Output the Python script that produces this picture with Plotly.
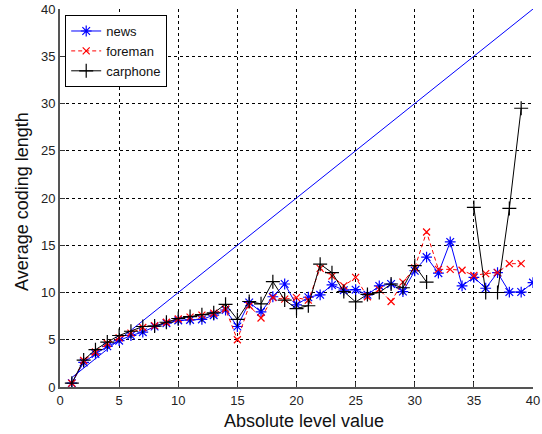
import plotly.graph_objects as go

levels = list(range(1, 41))

news = [0.4, 2.6, 3.5, 4.3, 4.9, 5.45, 5.8, 6.4, 6.75, 7.05,
        7.1, 7.15, 7.6, 8.15, 6.4, 8.95, 7.95, 9.55, 10.9, 8.7,
        9.5, 9.75, 10.8, 10.25, 10.3, 9.75, 10.7, 10.9, 10.1, 12.3,
        13.75, 12.05, 15.35, 10.7, 11.6, 10.45, 12.1, 10.05, 10.05, 11.05]

foreman = [0.4, 2.8, 3.7, 4.6, 5.2, 5.7, 6.3, 6.5, 6.85, 7.2,
           7.4, 7.6, 7.8, 8.25, 5.0, 8.6, 7.3, 9.45, 9.3, 9.45,
           9.2, 12.55, 11.75, 10.7, 11.6, 9.55, 10.3, 9.05, 11.1, 12.6,
           16.4, 12.45, 12.45, 12.35, 11.8, 12.0, 12.1, 13.05, 13.05, None]

carphone = [0.4, 2.85, 3.95, 4.75, 5.45, 5.9, 6.4, 6.45, 6.85, 7.25,
            7.45, 7.65, 7.85, 8.75, 7.15, 9.05, 8.8, 11.15, 9.2, 8.3,
            8.6, 13.0, 12.1, 10.1, 9.0, 9.8, 10.0, 10.9, 10.5, 12.85,
            11.1, None, None, None, 19.0, 10.0, 10.0, 18.9, 29.5, None]

ref_x = [1, 40]
ref_y = [1, 40]

xticks = [0, 5, 10, 15, 20, 25, 30, 35, 40]
yticks = [0, 5, 10, 15, 20, 25, 30, 35, 40]

FONT = "Liberation Sans, Arial, sans-serif"

fig = go.Figure()
fig.add_trace(go.Scatter(x=ref_x, y=ref_y, mode="lines",
                         line=dict(color="#0000ff", width=1), showlegend=False))
fig.add_trace(go.Scatter(x=levels, y=news, mode="lines+markers", name="news",
                         line=dict(color="#0000ff", width=1),
                         marker=dict(symbol="asterisk-open", size=9,
                                     line=dict(color="#0000ff", width=1.2))))
fig.add_trace(go.Scatter(x=levels, y=foreman, mode="lines+markers", name="foreman",
                         line=dict(color="#ff0000", width=1, dash="4px,3px"),
                         marker=dict(symbol="x-thin-open", size=7,
                                     line=dict(color="#ff0000", width=1.2))))
fig.add_trace(go.Scatter(x=levels, y=carphone, mode="lines+markers", name="carphone",
                         line=dict(color="#000000", width=1),
                         marker=dict(symbol="cross-thin-open", size=10,
                                     line=dict(color="#000000", width=1.2))))

axis_common = dict(
    showgrid=True, gridcolor="#000000", gridwidth=1, griddash="3px,3px",
    zeroline=False, showline=True, linecolor="#555555", linewidth=2,
    ticks="inside", ticklen=5, tickcolor="#333333", tickwidth=1,
    tickfont=dict(family=FONT, size=13, color="#222222"),
    ticklabeloverflow="allow",
)

fig.update_layout(
    width=542, height=434,
    margin=dict(l=60, r=2, t=6, b=47),
    paper_bgcolor="white", plot_bgcolor="white",
    font=dict(family=FONT, color="#111111"),
    xaxis=dict(range=[0, 40], tickvals=xticks, ticktext=[str(v) for v in xticks],
               **axis_common),
    yaxis=dict(range=[0, 40], tickvals=yticks, ticktext=[str(v) for v in yticks],
               **axis_common),
    legend=dict(x=0.011, y=0.984, xanchor="left", yanchor="top",
                bgcolor="white", bordercolor="#000000", borderwidth=1,
                font=dict(family=FONT, size=13, color="#111111"),
                itemwidth=30, tracegroupgap=0,
                entrywidth=72, entrywidthmode="pixels"),
    annotations=[
        dict(text="Absolute level value", xref="paper", yref="paper",
             x=(308 - 60) / 480, y=(387 - 421) / 381, xanchor="center", yanchor="middle",
             showarrow=False, font=dict(family=FONT, size=18, color="#111111")),
        dict(text="Average coding length", xref="paper", yref="paper",
             x=(22 - 60) / 480, y=(387 - 200) / 381, xanchor="center", yanchor="middle",
             textangle=-90, showarrow=False,
             font=dict(family=FONT, size=18, color="#111111")),
    ],
)

fig.write_html("out.html")
